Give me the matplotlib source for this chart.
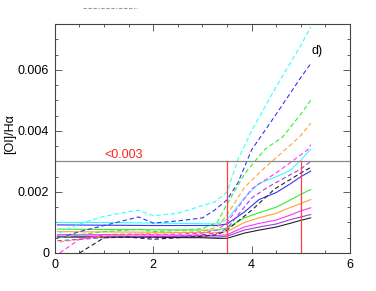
import numpy as np
import matplotlib
matplotlib.use("Agg")
import matplotlib.pyplot as plt
from matplotlib.lines import Line2D
from matplotlib.ticker import MultipleLocator

# x positions for solid curves
x_solid = [0.05, 1.0, 2.0, 3.0, 3.3, 3.5, 3.85, 4.15, 4.5, 4.8, 5.0, 5.2]
solid = {
    "cyan":    [0.00100, 0.00100, 0.00098, 0.00096, 0.00095, 0.00110, 0.00180, 0.00228, 0.00250, 0.00272, 0.00305, 0.00340],
    "blue":    [0.00092, 0.00091, 0.00090, 0.00090, 0.00090, 0.00095, 0.00134, 0.00175, 0.00198, 0.00228, 0.00250, 0.00268],
    "green":   [0.00078, 0.00077, 0.00076, 0.00075, 0.00075, 0.00082, 0.00115, 0.00132, 0.00150, 0.00175, 0.00192, 0.00208],
    "orange":  [0.00070, 0.00069, 0.00068, 0.00067, 0.00066, 0.00070, 0.00100, 0.00115, 0.00130, 0.00150, 0.00162, 0.00175],
    "magenta": [0.00060, 0.00060, 0.00059, 0.00058, 0.00057, 0.00060, 0.00085, 0.00097, 0.00108, 0.00125, 0.00138, 0.00148],
    "violet":  [0.00055, 0.00055, 0.00054, 0.00053, 0.00052, 0.00055, 0.00075, 0.00085, 0.00095, 0.00110, 0.00118, 0.00126],
    "black":   [0.00052, 0.00052, 0.00051, 0.00050, 0.00048, 0.00048, 0.00065, 0.00075, 0.00085, 0.00098, 0.00107, 0.00115],
}

# dashed curves, each with its own x sampling
dashed = {
    "cyan":    ([0.1, 0.5, 1.0, 1.5, 1.7, 2.0, 2.5, 3.0, 3.25, 3.5, 3.72, 4.0, 4.5, 5.0, 5.2],
                [0.00066, 0.00095, 0.00120, 0.00135, 0.00140, 0.00122, 0.00130, 0.00155, 0.00167, 0.00200, 0.00305, 0.00400, 0.00545, 0.00680, 0.00740]),
    "blue":    ([0.1, 0.5, 1.0, 1.5, 1.7, 2.0, 2.5, 3.0, 3.25, 3.5, 3.72, 4.0, 4.5, 5.0, 5.2],
                [0.00050, 0.00070, 0.00090, 0.00110, 0.00118, 0.00098, 0.00105, 0.00115, 0.00141, 0.00174, 0.00230, 0.00338, 0.00455, 0.00575, 0.00620]),
    "green":   ([0.1, 0.5, 1.0, 1.5, 1.7, 2.0, 2.5, 3.0, 3.3, 3.5, 3.86, 4.27, 4.63, 5.0, 5.2],
                [0.00050, 0.00060, 0.00070, 0.00075, 0.00078, 0.00070, 0.00074, 0.00080, 0.00100, 0.00160, 0.00260, 0.00340, 0.00380, 0.00455, 0.00500]),
    "orange":  ([0.1, 0.5, 1.0, 1.5, 2.0, 2.5, 3.0, 3.3, 3.5, 3.86, 4.27, 4.8, 5.0, 5.2],
                [0.00036, 0.00045, 0.00055, 0.00060, 0.00065, 0.00067, 0.00070, 0.00085, 0.00125, 0.00216, 0.00280, 0.00355, 0.00385, 0.00425]),
    "magenta": ([0.1, 0.5, 1.0, 1.5, 2.0, 2.5, 3.0, 3.3, 3.5, 4.0, 4.53, 5.14, 5.2],
                [0.00000, 0.00045, 0.00060, 0.00062, 0.00060, 0.00062, 0.00065, 0.00075, 0.00100, 0.00210, 0.00266, 0.00338, 0.00355]),
    "violet":  ([0.05, 1.0, 1.5, 2.0, 2.5, 3.0, 3.3, 3.5, 4.0, 4.33, 5.0, 5.2],
                [0.00040, 0.00050, 0.00052, 0.00052, 0.00055, 0.00060, 0.00065, 0.00080, 0.00180, 0.00216, 0.00275, 0.00300]),
    "black":   ([0.5, 1.0, 1.5, 2.0, 2.5, 3.0, 3.3, 3.5, 4.0, 4.47, 5.0, 5.2],
                [0.00000, 0.00050, 0.00052, 0.00045, 0.00050, 0.00055, 0.00060, 0.00075, 0.00140, 0.00210, 0.00262, 0.00280]),
}

colors = {
    "cyan": "#33ffff",
    "blue": "#3333ff",
    "green": "#33ee33",
    "orange": "#ffa030",
    "magenta": "#ff33ff",
    "violet": "#a040e0",
    "black": "#222222",
}

limit = 0.003
cut_x = [3.5, 5.0]

plt.rcParams['font.family'] = ['Liberation Sans', 'DejaVu Sans']

fig = plt.figure(figsize=(3.76, 2.91), dpi=100)
ax = fig.add_axes([0.146, 0.1306, 0.785, 0.787])

for name, ys in solid.items():
    ax.plot(x_solid, ys, color=colors[name], lw=0.8, ls='-')
for name, (xs, ys) in dashed.items():
    ax.plot(xs, ys, color=colors[name], lw=0.8, ls=(0, (4, 2.5)))

ax.axhline(limit, color='#888888', lw=0.9)
for xv in cut_x:
    ax.plot([xv, xv], [0, limit], color='#ff4040', lw=0.9)

ax.text(1.0, 0.00312, "<0.003", color='#ff2020', fontsize=9)
ax.text(5.33, 0.0066, "d)", fontsize=9, ha='center', va='center')

ax.set_xlim(0, 6)
ax.set_ylim(0, 0.0075)
ax.xaxis.set_minor_locator(MultipleLocator(0.5))
ax.yaxis.set_minor_locator(MultipleLocator(0.0005))
ax.tick_params(which='both', direction='in', top=True, right=True, width=0.6, color='#444444')
ax.tick_params(which='major', length=5, labelsize=9, pad=4)
ax.tick_params(which='minor', length=2.5)
ax.set_xticks([0, 2, 4, 6])
ax.set_xticklabels(["0", "2", "4", "6"])
ax.set_yticks([0, 0.002, 0.004, 0.006])
ax.set_yticklabels(["0", "0.002", "0.004", "0.006"])
for sp in ax.spines.values():
    sp.set_linewidth(0.8)
    sp.set_color('#444444')
ax.set_ylabel("[OI]/H\u03b1", fontsize=9)
ax.yaxis.set_label_coords(-0.13, 0.52)

# short dash / dash-dot line above the frame
fig.add_artist(Line2D([83 / 376, 137 / 376], [1 - 8 / 291, 1 - 8 / 291],
                      color='#999999', lw=0.8,
                      ls=(0, (3, 1.5, 3, 1.5, 3, 1.5, 1, 1.5))))

fig.savefig("out.png", dpi=100)
